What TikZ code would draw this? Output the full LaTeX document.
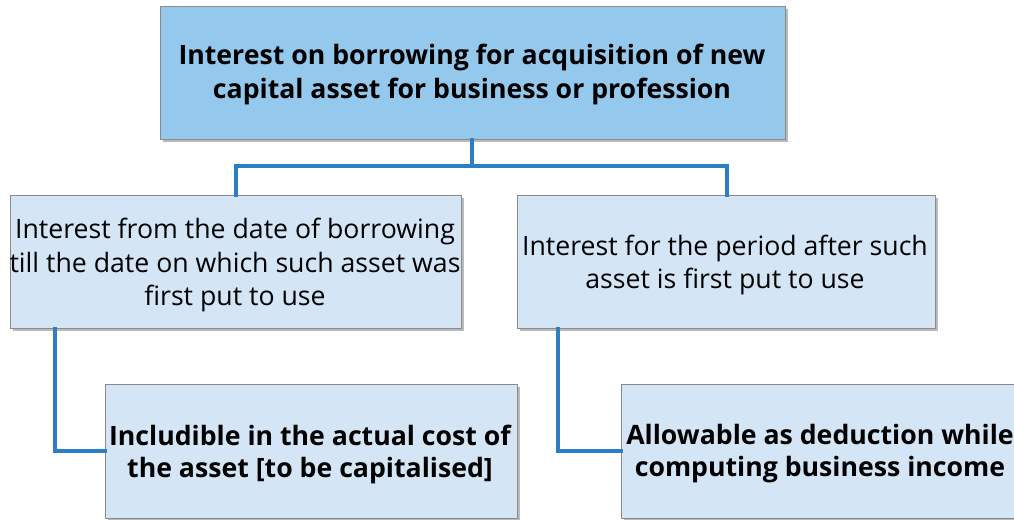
\documentclass[tikz,border=0pt]{standalone}
\usepackage{fontspec}
\setmainfont{Open Sans}
\usetikzlibrary{shadows}
\definecolor{topfill}{HTML}{94C8EC}
\definecolor{boxfill}{HTML}{D4E6F5}
\definecolor{linec}{HTML}{2A7FC6}
\definecolor{bordc}{HTML}{8A8A8A}
\tikzset{
  box/.style={draw=bordc, line width=0.8pt, inner sep=0pt, anchor=north west,
    drop shadow={shadow xshift=1.5pt, shadow yshift=-1.5pt, fill=black!45, opacity=0.6}},
  link/.style={draw=linec, line width=3pt, line cap=rect},
  toptext/.style={font=\fontsize{20}{25.5}\selectfont\bfseries, align=center},
  midtext/.style={font=\fontsize{20}{25}\selectfont, align=center},
  bottext/.style={font=\fontsize{20}{24}\selectfont\bfseries, align=center},
}
\begin{document}
\begin{tikzpicture}[x=0.75pt,y=-0.75pt]
\useasboundingbox (0,0) rectangle (1014,519);
\begin{scope}
\clip (0,0) rectangle (1014,519);
\coordinate (j0) at (472,166);
\coordinate (jl) at (236,166);
\coordinate (jr) at (727,166);
\coordinate (cl) at (55,451);
\coordinate (cr) at (558,451);
% boxes
\node[box, fill=topfill, minimum width=625*0.75pt, minimum height=133*0.75pt] (top) at (160,6) {};
\node[box, fill=boxfill, minimum width=451*0.75pt, minimum height=133*0.75pt] (ml) at (10,195) {};
\node[box, fill=boxfill, minimum width=418*0.75pt, minimum height=133*0.75pt] (mr) at (517,195) {};
\node[box, fill=boxfill, minimum width=412*0.75pt, minimum height=134*0.75pt] (bl) at (105,384) {};
\node[box, fill=boxfill, minimum width=420*0.75pt, minimum height=134*0.75pt] (br) at (621,384) {};
% connectors
\draw[link] (top.south -| j0) -- (j0);
\draw[link] (jl) -- (jr);
\draw[link] (jl) -- (jl |- ml.north);
\draw[link] (jr) -- (jr |- mr.north);
\draw[link] (ml.south -| cl) -- (cl) -- (bl.west |- cl);
\draw[link] (mr.south -| cr) -- (cr) -- (br.west |- cr);
% texts
\node[toptext] (ttop) at (472,74) {Interest on borrowing for acquisition of new\\capital asset for business or profession};
\node[midtext] (tml) at (235,265) {Interest from the date of borrowing\\till the date on which such asset was\\first put to use};
\node[midtext] (tmr) at (725,265) {Interest for the period after such\\asset is first put to use};
\node[bottext] (tbl) at (310,454) {Includible in the actual cost of\\the asset [to be capitalised]};
\node[bottext] (tbr) at (820,454) {Allowable as deduction while\\computing business income};
\end{scope}
\end{tikzpicture}
\end{document}
